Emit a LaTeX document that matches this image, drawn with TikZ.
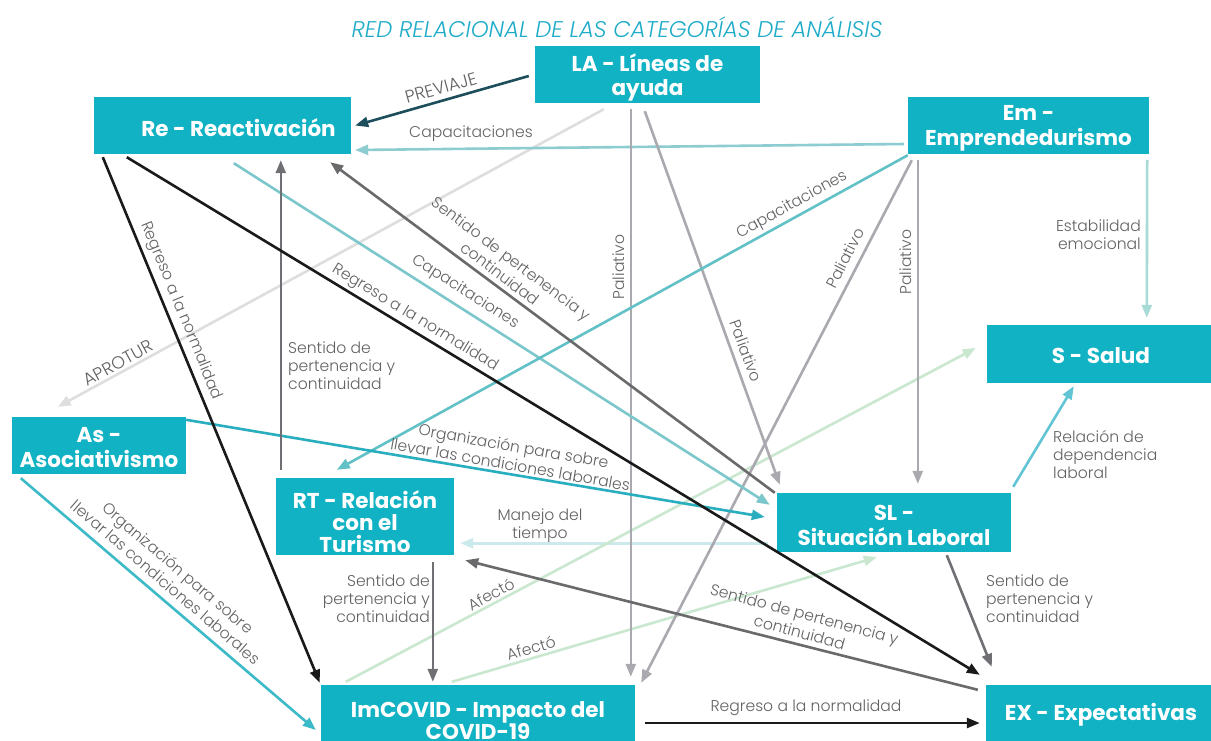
\documentclass[tikz,border=0pt]{standalone}
\usepackage{fontspec}
\setmainfont{Poppins}
\newfontfamily\lightf{Poppins}[UprightFont=* Light,ItalicFont=* Light Italic]
\usetikzlibrary{arrows.meta,calc}
\definecolor{boxc}{RGB}{16,178,196}
\definecolor{titlec}{RGB}{30,172,200}
\definecolor{lblc}{RGB}{98,98,101}
\definecolor{navyc}{RGB}{29,78,92}
\definecolor{capc}{RGB}{141,204,208}
\definecolor{aproc}{RGB}{222,222,222}
\definecolor{blackc}{RGB}{26,26,26}
\definecolor{midg}{RGB}{112,112,116}
\definecolor{darkg}{RGB}{106,106,108}
\definecolor{palg}{RGB}{169,169,175}
\definecolor{tealb}{RGB}{124,199,203}
\definecolor{tealc}{RGB}{98,193,198}
\definecolor{estc}{RGB}{168,219,214}
\definecolor{relc}{RGB}{98,197,213}
\definecolor{orgc}{RGB}{40,174,190}
\definecolor{orgd}{RGB}{60,186,200}
\definecolor{manc}{RGB}{204,233,236}
\definecolor{afec}{RGB}{202,231,207}
\begin{document}
\begin{tikzpicture}[x=1pt,y=-1pt,
  box/.style={fill=boxc,inner sep=0pt},
  bt/.style={text=white,inner sep=0pt,align=center,yshift=-3pt,
    font=\bfseries\fontsize{21.5}{24.5}\selectfont},
  lbl/.style={text=lblc,inner sep=0pt,align=center,
    font=\lightf\fontsize{15.6}{18}\selectfont},
  rlbl/.style={lbl,font=\lightf\fontsize{15.6}{18.8}\selectfont},
  caps/.style={font=\lightf\fontsize{17.5}{20}\selectfont},
  conn/.style={line width=2.6pt,-{Triangle[length=13pt,width=10pt]}}]
\useasboundingbox (0,0) rectangle (1211,740);
\fill[white] (0,0) rectangle (1211,740);
\node[text=titlec,inner sep=0pt,font=\lightf\itshape\fontsize{22.7}{26}\selectfont] (title) at (617,27) {RED RELACIONAL DE LAS CATEGORÍAS DE ANÁLISIS};
% boxes
\node[box,minimum width=225,minimum height=57,label={[bt]center:{LA - Líneas de\\ayuda}}] (LA) at (647.5,74.5) {};
\node[box,minimum width=257,minimum height=57,label={[bt,xshift=16pt,yshift=1pt]center:{Re - Reactivación}}] (Re) at (222.5,125.5) {};
\node[box,minimum width=241,minimum height=57,label={[bt]center:{Em -\\Emprendedurismo}}] (Em) at (1028.5,125.5) {};
\node[box,minimum width=228,minimum height=58,label={[bt,yshift=1pt]center:{S - Salud}}] (S) at (1101,354) {};
\node[box,minimum width=174,minimum height=57,label={[bt,yshift=1pt]center:{As -\\Asociativismo}}] (As) at (99,445.5) {};
\node[box,minimum width=178,minimum height=77,label={[bt,font=\bfseries\fontsize{21.5}{22}\selectfont,yshift=-2pt]center:{RT - Relación\\con el\\Turismo}}] (RT) at (365,516.5) {};
\node[box,minimum width=234,minimum height=59,label={[bt]center:{SL -\\Situación Laboral}}] (SL) at (894,522.5) {};
\node[box,minimum width=314,minimum height=68,label={[bt,font=\bfseries\fontsize{21.5}{22}\selectfont,yshift=1pt]center:{ImCOVID - Impacto del\\COVID-19}}] (Im) at (478,719) {};
\node[box,minimum width=230,minimum height=56,label={[bt,yshift=1pt]center:{EX - Expectativas}}] (EX) at (1101,713) {};
% connectors, light first
\draw[conn,aproc] ($(LA.south west)+(69,6)$) -- ($(As.north west)+(46,-10)$);
\draw[conn,manc] ($(SL.south west)+(-9,-9)$) -- ($(RT.south east)+(6,-12)$);
\draw[conn,afec] ($(Im.north west)+(25,-3)$) -- ($(S.west)+(-11,-6)$);
\draw[conn,afec] ($(Im.north west)+(131,-3)$) -- ($(SL.south west)+(100,5)$);
\draw[conn,estc] ($(Em.south east)+(-2,6)$) -- ($(S.north west)+(160,-7)$);
\draw[conn,capc] ($(Em.west)+(-4,18.5)$) -- ($(Re.east)+(4,24.5)$);
\draw[conn,palg] ($(LA.south west)+(96,6)$) -- ($(Im.north west)+(310,-8)$);
\draw[conn,palg] ($(LA.south west)+(110,8)$) -- ($(SL.north west)+(3,-8)$);
\draw[conn,palg] ($(Em.south west)+(4,6)$) -- ($(Im.north east)+(6,-2)$);
\draw[conn,palg] ($(Em.south west)+(10,6)$) -- ($(SL.north west)+(141,-9)$);
\draw[conn,tealb] ($(Re.south west)+(140,9)$) -- ($(SL.north west)+(-7,12)$);
\draw[conn,tealc] ($(Em.south west)+(0,1)$) -- ($(RT.north west)+(61,-8)$);
\draw[conn,relc] ($(SL.north east)+(2,-6)$) -- ($(S.south west)+(87,3)$);
\draw[conn,orgd] ($(As.south west)+(9,4)$) -- ($(Im.west)+(-5,11)$);
\draw[conn,orgc] ($(As.north east)+(0,3)$) -- ($(SL.west)+(-12,-5.5)$);
\draw[conn,midg] ($(RT.north west)+(5,-8)$) -- ($(Re.south west)+(187,6)$);
\draw[conn,midg] ($(RT.south west)+(157,7)$) -- ($(Im.north west)+(112,-3)$);
\draw[conn,midg] ($(SL.south west)+(170,3)$) -- ($(EX.north west)+(6,-18)$);
\draw[conn,darkg] ($(SL.north west)+(-2,0)$) -- ($(Re.south east)+(-21,8)$);
\draw[conn,darkg] ($(EX.north west)+(-8,5)$) -- ($(RT.south east)+(11,5)$);
\draw[conn,navyc] ($(LA.west)+(-6,1.5)$) -- ($(Re.east)+(4,0)$);
\draw[conn,blackc] ($(Re.south west)+(9,3)$) -- ($(Im.north west)+(-1,-2)$);
\draw[conn,blackc] ($(Re.south west)+(33,3)$) -- ($(EX.north west)+(-6,-10)$);
\draw[conn,blackc] ($(Im.east)+(10,4)$) -- ($(EX.west)+(-6,10)$);
% labels
\node[lbl,caps,rotate=15.4] (l1) at (441,88) {PREVIAJE};
\node[lbl] (l2) at (471,134) {Capacitaciones};
\node[lbl,caps,rotate=28.7] (l3) at (118,363) {APROTUR};
\node[lbl,rotate=-67.6] (l4) at (181,311) {Regreso a la normalidad};
\node[lbl,rotate=-31.3] (l5) at (415,318) {Regreso a la normalidad};
\node[lbl,anchor=west,align=left] (l6) at (288,366) {Sentido de\\pertenencia y\\continuidad};
\node[lbl,rotate=-32.5] (l7) at (465,292) {Capacitaciones};
\node[rlbl,rotate=-37] (l8) at (506,266) {Sentido de pertenencia y\\continuidad};
\node[lbl,rotate=90] (l9) at (619,267) {Paliativo};
\node[lbl,rotate=-70.1] (l10) at (746,351) {Paliativo};
\node[lbl,rotate=28.9] (l11) at (792,205) {Capacitaciones};
\node[lbl,rotate=62.6] (l12) at (845,258) {Paliativo};
\node[lbl,rotate=90] (l13) at (906,262) {Paliativo};
\node[lbl,anchor=east,align=right] (l14) at (1141,235) {Estabilidad\\emocional};
\node[lbl,anchor=west,align=left] (l15) at (1053,455) {Relación de\\dependencia\\laboral};
\node[rlbl,rotate=-10] (l16) at (512,455) {Organización para sobre\\llevar las condiciones laborales};
\node[rlbl,rotate=-40.5] (l17) at (172,575) {Organización para sobre\\llevar las condiciones laborales};
\node[lbl] (l18) at (540,526) {Manejo del\\tiempo};
\node[lbl,rotate=27.9] (l19) at (491,594) {Afectó};
\node[lbl,rotate=16.4] (l20) at (531,648) {Afectó};
\node[lbl,anchor=east,align=right] (l21) at (430,599) {Sentido de\\pertenencia y\\continuidad};
\node[rlbl,rotate=-15] (l22) at (802,623) {Sentido de pertenencia y\\continuidad};
\node[lbl,anchor=west,align=left] (l23) at (986,599) {Sentido de\\pertenencia y\\continuidad};
\node[lbl] (l24) at (806,708) {Regreso a la normalidad};
\end{tikzpicture}
\end{document}
